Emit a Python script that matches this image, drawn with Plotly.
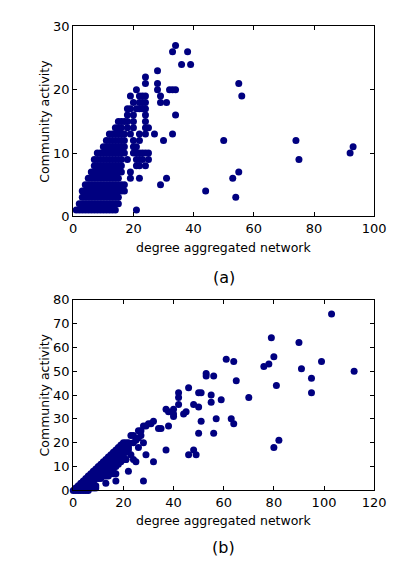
import plotly.graph_objects as go

# ---------------- panel (a) data ----------------
# dense block: for each activity level, the degrees observed
a_levels = [1, 2, 3, 4, 5, 6, 7, 8, 9, 10, 11, 12, 13, 14, 15, 16, 17, 18]
a_degrees = [
    [1, 2, 3, 4, 5, 6, 7, 8, 9, 10, 11, 12, 13, 14, 21],
    [2, 3, 4, 5, 6, 7, 8, 9, 10, 11, 12, 13, 14, 15],
    [3, 4, 5, 6, 7, 8, 9, 10, 11, 12, 13, 14, 15],
    [3, 4, 5, 6, 7, 8, 9, 10, 11, 12, 13, 14, 15, 16, 17],
    [4, 5, 6, 7, 8, 9, 10, 11, 12, 13, 14, 15, 16, 17],
    [5, 6, 7, 8, 9, 10, 11, 12, 13, 14, 15, 19, 22],
    [6, 7, 8, 9, 10, 11, 12, 13, 14, 15, 16, 19],
    [7, 8, 9, 10, 11, 12, 13, 14, 15, 16, 21, 22, 24],
    [7, 8, 9, 10, 11, 12, 13, 14, 15, 16, 18, 21, 22, 23, 25],
    [8, 9, 10, 11, 12, 13, 14, 15, 16, 17, 20, 21, 22, 23, 24, 25],
    [10, 11, 12, 13, 14, 15, 16, 17, 20, 21],
    [11, 12, 13, 14, 15, 16, 17, 20, 22],
    [12, 13, 14, 15, 16, 17, 19, 22, 24],
    [14, 15, 16, 18, 20, 24, 25],
    [15, 16, 17, 18, 20, 24],
    [18, 20, 24],
    [18, 19, 21, 22, 23, 24],
    [20, 22, 23],
]
# sparse points of panel (a)
a_x = [34, 33, 38, 36, 39, 28, 24, 24, 28, 28, 21, 19, 22, 23, 24, 29, 29, 31,
       32, 33, 34, 34, 33, 27, 30, 31, 29, 44, 50, 55, 56, 55, 53, 54, 74, 75,
       92, 93, 24]
a_y = [27, 26, 26, 24, 24, 23, 22, 21, 21, 20, 20, 19, 19, 19, 19, 19, 18, 18,
       20, 20, 20, 16, 13, 13, 12, 6, 5, 4, 12, 21, 19, 7, 6, 3, 12, 9,
       10, 11, 18]

# ---------------- panel (b) data ----------------
b_degrees = [0, 1, 2, 3, 4, 5, 6, 7, 8, 9, 10, 11, 12, 13, 14, 15, 16, 17, 18,
             19, 20, 21, 22]
b_levels = [
    [0],
    [0, 1],
    [0, 1, 2],
    [0, 1, 2, 3],
    [0, 1, 2, 3, 4],
    [0, 1, 2, 3, 4, 5],
    [0, 1, 2, 3, 4, 5, 6],
    [1, 2, 3, 4, 5, 6, 7],
    [1, 2, 3, 4, 5, 6, 7, 8],
    [1, 2, 5, 6, 7, 8, 9],
    [5, 6, 7, 8, 9, 10],
    [5, 6, 7, 8, 9, 10, 11],
    [6, 7, 8, 9, 10, 11, 12],
    [3, 6, 7, 8, 9, 10, 11, 12, 13],
    [6, 7, 8, 9, 10, 11, 12, 13, 14],
    [7, 8, 9, 10, 11, 12, 13, 14, 15],
    [7, 9, 10, 11, 12, 13, 14, 15, 16],
    [4, 7, 10, 11, 12, 13, 14, 15, 16, 17],
    [11, 12, 13, 14, 15, 16, 17, 18],
    [12, 14, 15, 16, 17, 18, 19],
    [13, 15, 16, 17, 18, 19, 20],
    [13, 16, 18, 19, 20],
    [8, 17, 19, 20],
]
b_x = [79, 90, 80, 78, 76, 61, 64, 53, 53, 56, 65, 81, 91, 95, 95, 99, 70, 59,
       55, 55, 50, 51, 46, 42, 42, 42, 48, 50, 44, 45, 51, 57, 63, 64, 50, 56,
       48, 46, 49, 80, 82, 103, 112, 40, 40, 40, 37, 38, 38, 37, 32, 34, 35,
       31, 30, 28, 29, 26, 27, 23, 24, 29, 32, 28, 25, 22, 28, 26, 23, 24, 21,
       25, 26, 27, 24]
b_y = [64, 62, 56, 53, 52, 55, 54, 49, 48, 48, 46, 44, 51, 47, 41, 54, 39, 38,
       40, 37, 41, 41, 43, 41, 39, 36, 36, 35, 32, 33, 29, 30, 30, 28, 24, 24,
       17, 15, 15, 18, 21, 74, 50, 34, 32, 31, 34, 33, 27, 17, 29, 26, 26,
       28, 28, 27, 27, 25, 25, 23, 23, 15, 12, 20, 12, 18, 4, 18, 15, 13, 13,
       21, 22, 23, 20]

# ---------------- assemble ----------------
ax_pts, ay_pts = [], []
for lvl, degs in zip(a_levels, a_degrees):
    for d in degs:
        ax_pts.append(d)
        ay_pts.append(lvl)
ax_pts += a_x
ay_pts += a_y

bx_pts, by_pts = [], []
for d, lvls in zip(b_degrees, b_levels):
    for l in lvls:
        bx_pts.append(d)
        by_pts.append(l)
bx_pts += b_x
by_pts += b_y

W, H = 416, 570
NAVY = "#000080"
marker = dict(size=7, color=NAVY, line=dict(width=0))

fig = go.Figure()
fig.add_trace(go.Scatter(x=ax_pts, y=ay_pts, mode="markers", marker=marker,
                         xaxis="x", yaxis="y", cliponaxis=False, showlegend=False))
fig.add_trace(go.Scatter(x=bx_pts, y=by_pts, mode="markers", marker=marker,
                         xaxis="x2", yaxis="y2", cliponaxis=False, showlegend=False))

x0, x1 = 72, 385
top_t, top_b = 20, 215
bot_t, bot_b = 300.5, 496.5

tickfont = dict(family="DejaVu Sans", size=13, color="black")
common = dict(showline=True, linecolor="black", linewidth=1, mirror="ticks",
              ticks="inside", ticklen=4, tickcolor="black", showgrid=False,
              zeroline=False, tickfont=tickfont)

fig.update_layout(
    width=W, height=H,
    margin=dict(l=0, r=0, t=0, b=0),
    paper_bgcolor="white", plot_bgcolor="white",
    xaxis=dict(domain=[x0 / W, x1 / W], range=[0, 100],
               tickvals=[0, 20, 40, 60, 80, 100], anchor="y", **common),
    yaxis=dict(domain=[1 - top_b / H, 1 - top_t / H], range=[0, 30],
               tickvals=[0, 10, 20, 30], anchor="x", **common),
    xaxis2=dict(domain=[x0 / W, x1 / W], range=[0, 120],
                tickvals=[0, 20, 40, 60, 80, 100, 120], anchor="y2", **common),
    yaxis2=dict(domain=[1 - bot_b / H, 1 - bot_t / H], range=[0, 80],
                tickvals=[0, 10, 20, 30, 40, 50, 60, 70, 80], anchor="x2", **common),
)

tfont = dict(family="DejaVu Sans", size=12.5, color="black")
cx = (x0 + x1) / 2 / W
anns = [
    dict(text="degree aggregated network", x=cx, y=1 - 247 / H, font=tfont),
    dict(text="degree aggregated network", x=cx, y=1 - 527 / H, font=tfont),
    dict(text="Community activity", x=42 / W, y=1 - 117.5 / H, font=tfont, textangle=-90),
    dict(text="Community activity", x=42 / W, y=1 - 398.5 / H, font=tfont, textangle=-90),
    dict(text="(a)", x=cx, y=1 - 278 / H, font=dict(family="DejaVu Sans", size=16, color="black")),
    dict(text="(b)", x=cx, y=1 - 555 / H, font=dict(family="DejaVu Sans", size=16, color="black")),
]
for a in anns:
    a.update(xref="paper", yref="paper", xanchor="center", yanchor="middle",
             showarrow=False)
fig.update_layout(annotations=anns)

fig.write_html("out.html")
